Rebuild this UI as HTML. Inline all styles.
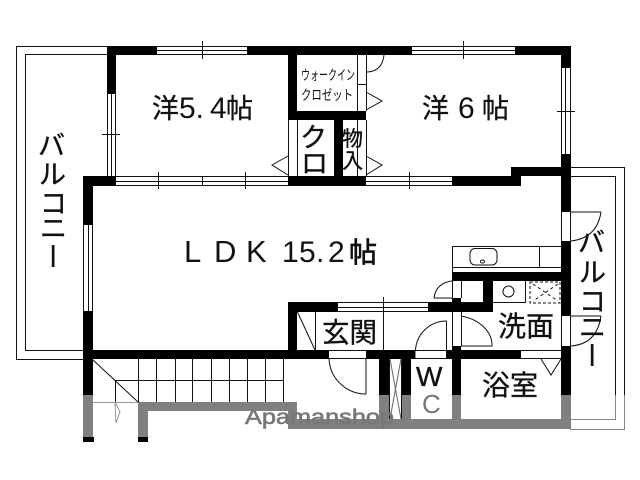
<!DOCTYPE html>
<html><head><meta charset="utf-8"><style>
html,body{margin:0;padding:0;background:#fff}
svg{display:block}
text{font-family:"Liberation Sans","Noto Sans CJK JP",sans-serif;fill:#111}
.b{stroke:#111;stroke-width:.35}
</style></head><body>
<svg width="640" height="480" viewBox="0 0 640 480" xmlns="http://www.w3.org/2000/svg">
<rect width="640" height="480" fill="#fff"/>
<!-- balconies -->
<g fill="none" stroke="#111" stroke-width="1" shape-rendering="crispEdges">
<path d="M107 46.5H16.5V359.5H83"/><path d="M107 54.5H25.5V350.5H83"/>
<path d="M570 167.5H624.5V395"/><path d="M570 176.5H615.5V395"/>
</g>
<g fill="none" stroke="#888" stroke-width="1" shape-rendering="crispEdges">
<path d="M624.5 395V429.5H570"/><path d="M615.5 395V419.5H570"/>
</g>
<!-- black walls -->
<g fill="#000" shape-rendering="crispEdges">
<rect x="107" y="46" width="50" height="9"/><rect x="247" y="46" width="165" height="9"/><rect x="515" y="46" width="56" height="9"/>
<rect x="107" y="46" width="9" height="48"/>
<rect x="561" y="46" width="10" height="22"/><rect x="561" y="154" width="10" height="58"/><rect x="561" y="241" width="10" height="75"/><rect x="561" y="346" width="10" height="49"/>
<rect x="83" y="176" width="33" height="10"/><rect x="83" y="176" width="10" height="49"/><rect x="83" y="311" width="10" height="84"/>
<rect x="288" y="46" width="9" height="74"/><rect x="288" y="111" width="78" height="9"/><rect x="334" y="120" width="9" height="56"/><rect x="288" y="176" width="78" height="10"/>
<rect x="452" y="176" width="69" height="10"/><rect x="511" y="167" width="50" height="9"/>
<rect x="83" y="350" width="246" height="9"/><rect x="366" y="350" width="49" height="9"/><rect x="447" y="350" width="74" height="9"/>
<rect x="288" y="302" width="9" height="48"/><rect x="288" y="302" width="50" height="10"/><rect x="428" y="302" width="65" height="10"/>
<rect x="452" y="272" width="110" height="9"/><rect x="483" y="281" width="10" height="31"/><rect x="452" y="298" width="9" height="14"/><rect x="452" y="346" width="9" height="49"/>
<rect x="379" y="359" width="10" height="36"/><rect x="401" y="359" width="10" height="36"/>
<rect x="83" y="437" width="11" height="5"/><rect x="138" y="437" width="10" height="5"/>
</g>
<!-- gray (watermarked) walls -->
<g fill="#808080" shape-rendering="crispEdges">
<rect x="83" y="395" width="10" height="42"/><rect x="138" y="402" width="10" height="35"/><rect x="138" y="402" width="159" height="9"/><rect x="288" y="411" width="9" height="18"/><rect x="288" y="419" width="283" height="10"/>
<rect x="379" y="395" width="10" height="24"/><rect x="401" y="395" width="10" height="24"/><rect x="452" y="395" width="9" height="24"/><rect x="561" y="395" width="10" height="24"/>
</g>
<rect x="452" y="359" width="9" height="36" fill="#000" shape-rendering="crispEdges"/>
<!-- windows and thin lines -->
<g fill="none" stroke="#111" stroke-width="1" shape-rendering="crispEdges">
<path d="M157 46.5H247M157 50.5H247M157 54.5H247M202.5 41V59"/>
<path d="M412 46.5H515M412 50.5H515M412 54.5H515M463.5 41V59"/>
<path d="M107.5 94V176M111.5 94V176M115.5 94V176M102 134.5H120"/>
<path d="M116 176.5H288M116 181.5H288M116 185.5H288M158.5 172V189M202.5 176V186M245.5 172V189"/>
<path d="M366 176.5H452M366 181.5H452M366 185.5H452M409.5 172V189"/>
<path d="M561.5 68V154M565.5 68V154M570.5 68V154M557 111.5H575"/>
<path d="M83.5 225V311M88.5 225V311M92.5 225V311"/>
<path d="M338 302.5H428M338 307.5H428M338 311.5H428M383.5 297V350"/>
<path d="M297.5 120V176M288.5 120V176"/>
<path d="M357.5 54V111M366.5 54V111M357.5 84.5H366M357.5 120V176M366.5 120V176"/>
<!-- kitchen -->
<path d="M452.5 246.5H561M452.5 246V272M452.5 267.5H561M539.5 246V267"/>
<path d="M461.5 281V298M452.5 281V298M461.5 312V346M452.5 312V346"/>
<path d="M461 302.5H483"/>
<!-- door openings -->
<path d="M329 350.5H366M329 358.5H366M366 359V394"/>
<path d="M415 350.5H447M415 358.5H447M415 350.5V359M446.5 321V359"/>
<path d="M521 350.5H561M521 358.5H561"/>
<path d="M561.5 212V241M570.5 212V241M571 212H601M561.5 316V346M570.5 316V346M571 316H601"/>
<path d="M315.5 350V312"/>
<!-- stairs -->
<path d="M138.5 359V402M156.5 359V402M175.5 359V402M192.5 359V402M211.5 359V402M229.5 359V402M247.5 359V402M265.5 359V402M283.5 359V402M115.5 380V402M115 380.5H284"/>
<path d="M389.5 359V419M401.5 359V419"/>
</g>
<path d="M93 402.5H138" stroke="#999" fill="none" shape-rendering="crispEdges"/>
<g fill="none" stroke="#111" stroke-width="1">
<path d="M93 360L138 402"/>
<path d="M297 311L315 350"/>
<path d="M366 72Q382 72 384 55"/>
<path d="M329 359A37 37 0 0 0 366 394"/>
<path d="M415.5 350A31 31 0 0 1 446.5 321"/>
<path d="M461 316A40 30 0 0 1 492 346H461"/>
<path d="M452 298H434Q436 283 452 281"/>
<path d="M571 241Q597 238 601 212"/>
<path d="M571 346Q597 344 601 316"/>
<path d="M366 92L382 101L366 110"/>
<path d="M366 156L382 165L366 175"/>
<path d="M288 156L272 165L288 175"/>
<path d="M541 359L551 375L561 359"/>
<path d="M390 359L401 419M401 359L390 419" stroke="#666"/>
<path d="M115 402L120 412L116 423L115 402" stroke="#999"/>
<rect x="470" y="248.5" width="27" height="16.5" rx="5" />
<ellipse cx="482.5" cy="261.5" rx="2" ry="1.5"/>
<path d="M493 302.5H525.5V281"/>
<circle cx="508.5" cy="291.5" r="5.5"/>
<rect x="530" y="282" width="30" height="21" stroke-dasharray="3 2"/>
<path d="M533 284L558 301M558 284L533 301" stroke-dasharray="3 3"/>
</g>
<!-- labels -->
<text class="b" x="152" y="118" font-size="27">洋</text>
<text x="179" y="118" font-size="30">5.</text>
<text x="210" y="118" font-size="30">4</text>
<text class="b" x="226" y="118" font-size="27">帖</text>
<text class="b" x="422" y="118" font-size="27">洋</text>
<text x="458" y="118" font-size="30">6</text>
<text class="b" x="482" y="118" font-size="27">帖</text>
<text x="301" y="80" font-size="14" textLength="54" lengthAdjust="spacingAndGlyphs">ウォークイン</text>
<text x="301" y="100" font-size="14" textLength="52" lengthAdjust="spacingAndGlyphs">クロゼット</text>
<text class="b" x="300" y="147" font-size="27">ク</text>
<text class="b" x="301" y="173" font-size="27">ロ</text>
<text class="b" x="342" y="146" font-size="21">物</text>
<text class="b" x="342" y="168" font-size="21">入</text>
<text x="184 214 246" y="262" font-size="31">LDK</text>
<text x="282 299 316" y="262" font-size="30">15.</text>
<text x="328" y="262" font-size="30">2</text>
<text x="349" y="262" font-size="28" style="stroke:#111;stroke-width:.7">帖</text>
<text class="b" x="322" y="342" font-size="27.5">玄関</text>
<text class="b" x="498" y="336" font-size="28">洗面</text>
<text class="b" x="482" y="395" font-size="28">浴室</text>
<text x="416" y="386" font-size="28" class="b">W</text>
<text x="422" y="413" font-size="26" style="fill:#777">C</text>
<g font-size="27" class="b">
<text x="38" y="155">バ</text><text x="39" y="184">ル</text><text x="40" y="213">コ</text><text x="40" y="238">ニ</text>
<text text-anchor="middle" y="9.5" transform="translate(52,256) rotate(90)">ー</text>
<text x="578" y="252">バ</text><text x="579" y="282">ル</text><text x="579" y="311">コ</text><text x="579" y="337">ニ</text>
<text text-anchor="middle" y="9.5" transform="translate(591,355) rotate(90)">ー</text>
</g>
<text x="245" y="424" font-size="21.5" style="fill:#777;stroke:#777;stroke-width:.6" textLength="149" lengthAdjust="spacingAndGlyphs">Apamanshop</text>
</svg>
</body></html>
